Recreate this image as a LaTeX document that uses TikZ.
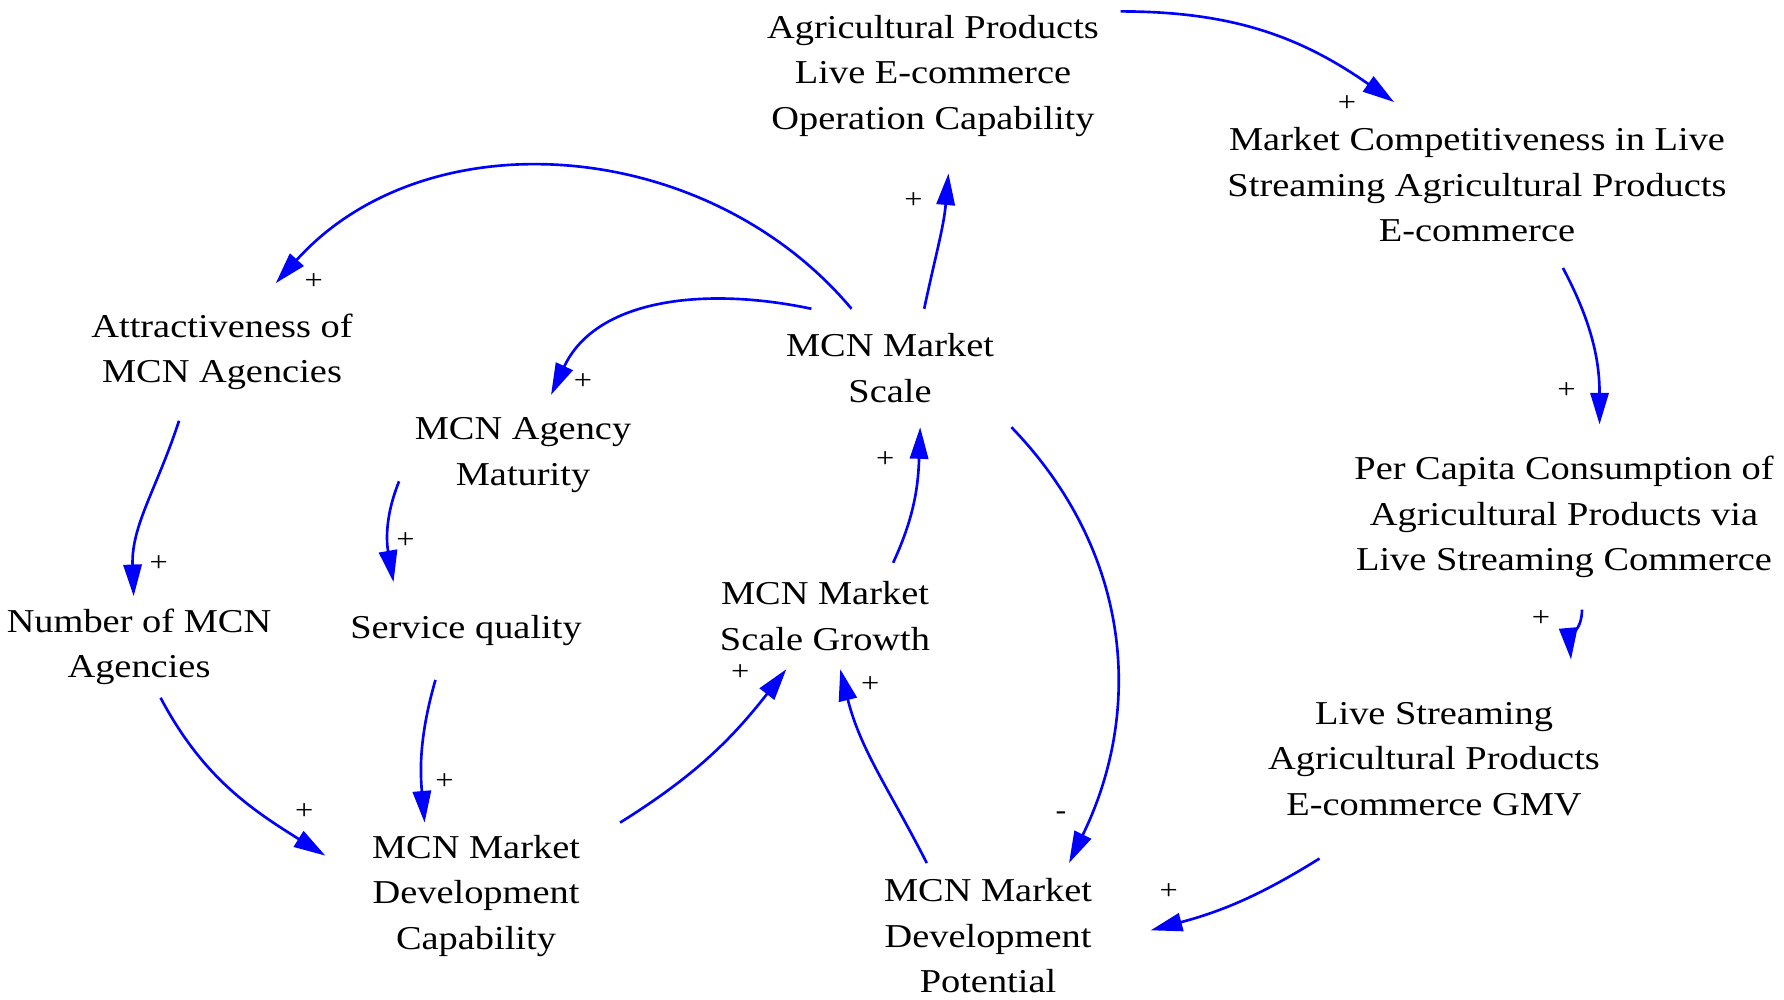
\documentclass[tikz,border=0pt]{standalone}
\usepackage{fontspec}
\setmainfont{Liberation Serif}[FakeStretch=1.15]
\usetikzlibrary{arrows.meta}
\definecolor{LoopBlue}{RGB}{0,0,255}
\tikzset{
  varbox/.style={align=center, font=\fontsize{9.5}{12.95}\selectfont},
  causal/.style={-{Triangle[length=9pt, width=5.2pt]}, line width=0.75pt, draw=LoopBlue},
  polsign/.style={font=\fontsize{8}{9}\selectfont, inner sep=0pt}
}

\begin{document}
\begin{tikzpicture}
  \useasboundingbox (0,0) rectangle (17.84,-10);
  % variables
  \node[varbox, inner xsep=2.1mm, inner ysep=3.6mm] (opcap) at (9.33,-0.76) {Agricultural Products\\Live E-commerce\\Operation Capability};
  \node[varbox, inner xsep=1mm, inner ysep=2.5mm] (compete) at (14.77,-1.85) {Market Competitiveness in Live\\Streaming Agricultural Products\\E-commerce};
  \node[varbox, inner xsep=1mm, inner ysep=3mm] (attract) at (2.22,-3.52) {Attractiveness of\\MCN Agencies};
  \node[varbox, inner xsep=2.3mm, inner ysep=2.4mm] (scale) at (8.90,-3.68) {MCN Market\\Scale};
  \node[varbox, inner xsep=1.5mm, inner ysep=2.2mm] (maturity) at (5.23,-4.55) {MCN Agency\\Maturity};
  \node[varbox, inner xsep=1mm, inner ysep=3.1mm] (percapita) at (15.64,-5.17) {Per Capita Consumption of\\Agricultural Products via\\Live Streaming Commerce};
  \node[varbox, inner xsep=.5mm, inner ysep=1.2mm] (number) at (1.39,-6.47) {Number of MCN\\Agencies};
  \node[varbox, inner xsep=1mm, inner ysep=3.3mm] (service) at (4.66,-6.31) {Service quality};
  \node[varbox, inner xsep=1mm, inner ysep=1.8mm] (growth) at (8.25,-6.16) {MCN Market\\Scale Growth};
  \node[varbox, inner xsep=4.2mm, inner ysep=4.2mm] (gmv) at (14.34,-7.59) {Live Streaming\\Agricultural Products\\E-commerce GMV};
  \node[varbox, inner xsep=4.6mm, inner ysep=1.2mm] (devcap) at (4.76,-8.96) {MCN Market\\Development\\Capability};
  \node[varbox, inner xsep=5.8mm, inner ysep=1.5mm] (potential) at (9.88,-9.36) {MCN Market\\Development\\Potential};

  % causal links
  \draw[causal] (opcap.19) to[out=0, in=145] node[polsign, pos=1, xshift=-4.7mm, yshift=-.2mm] {+} (compete.135);
  \draw[causal] (scale.60) to[out=78, in=-95] node[polsign, pos=1, xshift=-3.5mm, yshift=-2.7mm] {+} (opcap.-81);
  \draw[causal] (scale.123) to[out=130, in=48] node[polsign, pos=1, xshift=3.8mm, yshift=.2mm] {+} (attract.52);
  \draw[causal] (scale.143) to[out=168, in=65] node[polsign, pos=1, xshift=3.2mm, yshift=1.3mm] {+} (maturity.65);
  \draw[causal] (attract.-122) to[out=-108, in=92] node[polsign, pos=1, xshift=2.5mm, yshift=3.3mm] {+} (number.96);
  \draw[causal] (maturity.-168) to[out=-112, in=100] node[polsign, pos=1, xshift=1.2mm, yshift=4.2mm] {+} (service.146);
  \draw[causal] (number.-67) to[out=-62, in=148] node[polsign, pos=1, xshift=-2.1mm, yshift=4.4mm] {+} (devcap.165);
  \draw[causal] (service.-122) to[out=-106, in=95] node[polsign, pos=1, xshift=2mm, yshift=4.1mm] {+} (devcap.125);
  \draw[causal] (devcap.27) to[out=32, in=-128] node[polsign, pos=1, xshift=-4.6mm, yshift=-.3mm] {+} (growth.-126);
  \draw[causal] (growth.38) to[out=65, in=-92] node[polsign, pos=1, xshift=-3.5mm, yshift=-3.2mm] {+} (scale.-63);
  \draw[causal] (potential.130) to[out=117, in=-76] node[polsign, pos=1, xshift=3mm, yshift=-1.5mm] {+} (growth.-74);
  \draw[causal] (scale.-26) to[out=-46, in=64] node[polsign, pos=1, xshift=-.8mm, yshift=4.7mm] {-} (potential.42);
  \draw[causal] (compete.-44) to[out=-62, in=90] node[polsign, pos=1, xshift=-3.3mm, yshift=3.4mm] {+} (percapita.69);
  \draw[causal] (percapita.-79) to[out=-90, in=95] node[polsign, pos=1, xshift=-3mm, yshift=4.1mm] {+} (gmv.36);
  \draw[causal] (gmv.-139) to[out=-148, in=15] node[polsign, pos=1, xshift=1.8mm, yshift=3.9mm] {+} (potential.2.5);
\end{tikzpicture}
\end{document}
